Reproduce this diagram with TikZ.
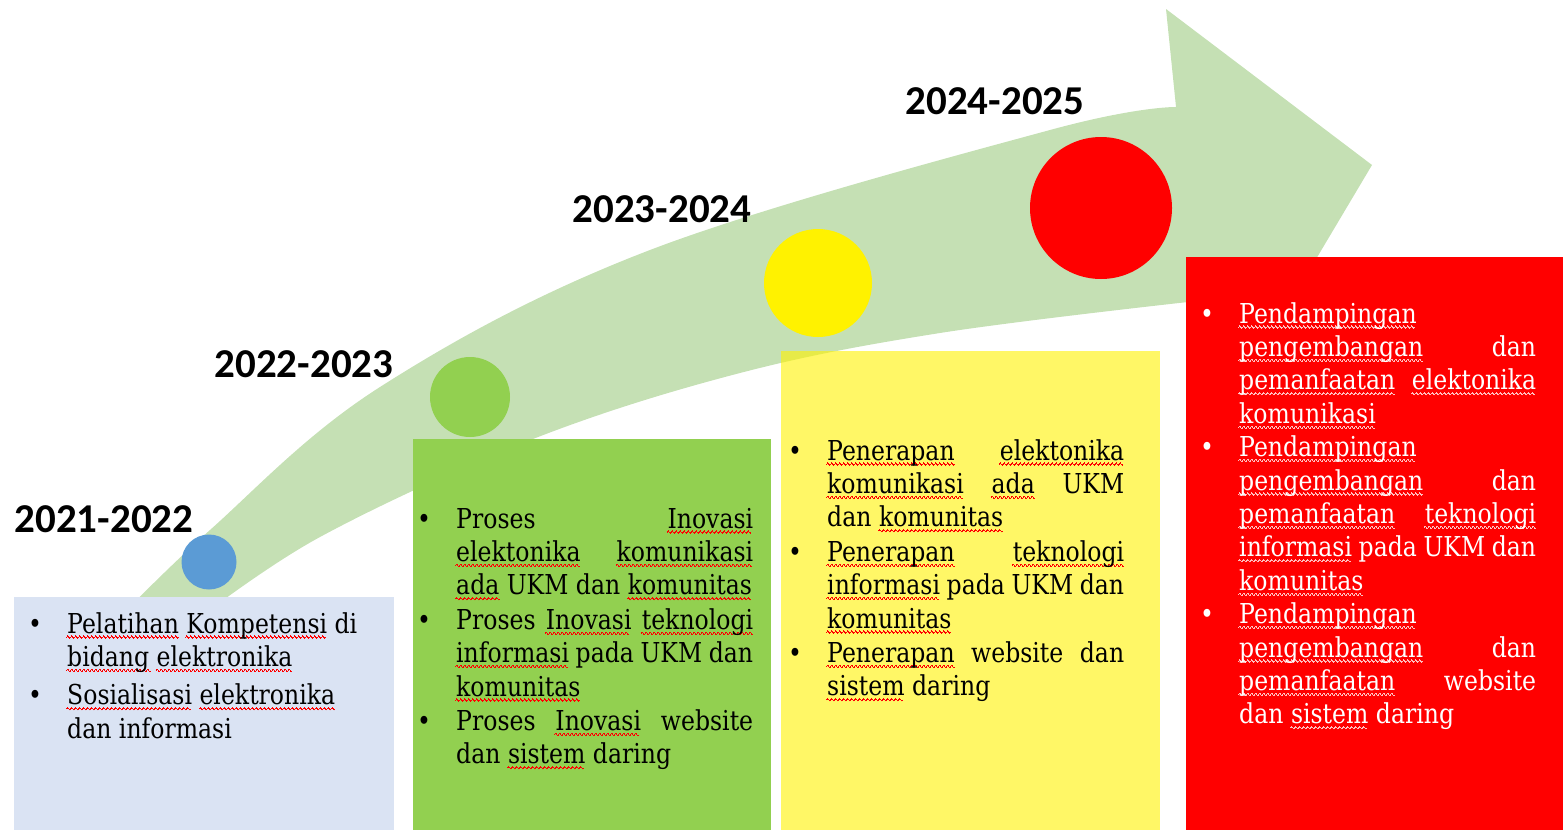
\documentclass[tikz,border=0pt]{standalone}
\usepackage{fontspec}
\setmainfont{DejaVu Serif}[FakeStretch=0.86]
\newfontfamily\yearfont{Carlito}
\usetikzlibrary{positioning}

\definecolor{bandgreen}{RGB}{197,224,180}
\definecolor{boxblue}{RGB}{218,227,243}
\definecolor{leafgreen}{RGB}{146,208,80}
\definecolor{dotblue}{RGB}{91,155,213}
\colorlet{wavecol}{red}

\hyphenpenalty=10000
\exhyphenpenalty=10000

% wavy underline made of small raised rules, one period = 4pt
\newcount\wavenum
\newcount\wavei
\newcommand\wstep[1]{\raise#1pt\hbox{\vrule width0.5pt height0.5pt depth0.5pt}}
\newcommand\wavepiece{\wstep{0}\wstep{0.8}\wstep{1.1}\wstep{0.8}\wstep{0}\wstep{-0.8}\wstep{-1.1}\wstep{-0.8}}
\newcommand\sq[1]{\leavevmode\hbox{}\nobreak\hskip0pt\setbox0\hbox{#1}%
  \wavenum=\wd0 \advance\wavenum by 131072 \divide\wavenum by 262144
  \rlap{\color{wavecol}\kern-1pt\lower4pt\hbox{\wavei=0
    \loop\ifnum\wavei<\wavenum \wavepiece\advance\wavei by 1 \repeat}}\box0\relax}
\newcommand\bodyfont{\fontsize{27.4}{33.4}\selectfont}
\newcommand\firstitm{\hangindent=39pt\hangafter=1\makebox[39pt][l]{\textbullet}}
\newcommand\itm{\par\noindent\firstitm}

\begin{document}
\begin{tikzpicture}[x=1pt,y=-1pt,
  year/.style={font=\yearfont\bfseries\fontsize{41}{41}\selectfont,inner sep=0pt},
  dot/.style={circle,inner sep=0pt,draw=none},
  txt/.style={anchor=base west,inner sep=0pt,text width=336pt,align=justify}]
  \useasboundingbox (0,0) rectangle (1563,830);

  % curved arrow behind everything
  \fill[bandgreen] plot[smooth,tension=0.6] coordinates {(112,625) (210,530) (380,387) (650,250) (1050,130) (1176,107)}
    -- (1166,9) -- (1372,165) -- (1250,370) -- (1188,302)
    -- plot[smooth,tension=0.6] coordinates {(1188,302) (940,333) (740,373) (533,439) (320,537) (190,625)} -- cycle;

  \fill[boxblue] (14,597) rectangle (394,830);
  \fill[leafgreen] (413,439) rectangle (771,830);
  \fill[yellow,fill opacity=0.6] (781,351) rectangle (1160,830);
  \fill[red] (1186,257) rectangle (1563,830);

  \node[dot,fill=dotblue,minimum size=55pt] (dot1) at (209,562) {};
  \node[dot,fill=leafgreen,minimum size=80pt] (dot2) at (470,397) {};
  \node[dot,fill=yellow,minimum size=108pt] (dot3) at (818,283) {};
  \node[dot,fill=red,minimum size=142pt] (dot4) at (1101,208) {};

  \node[year] (yr1) at (104,519) {2021-2022};
  \node[year] (yr2) at (304,364) {2022-2023};
  \node[year] (yr3) at (662,209) {2023-2024};
  \node[year] (yr4) at (995,101) {2024-2025};

  \node[txt] (txt1) at (28,633) {\bodyfont\parskip=5pt%
    \firstitm \sq{Pelatihan} \sq{Kompetensi} di\newline \sq{bidang} \sq{elektronika}
    \itm \sq{Sosialisasi} \sq{elektronika}\newline dan informasi\par};

  \node[txt] (txt2) at (417,528) {\bodyfont\parskip=1pt%
    \firstitm Proses \sq{Inovasi}\linebreak \sq{elektonika} \sq{komunikasi}\linebreak \sq{ada} UKM dan \sq{komunitas}
    \itm Proses \sq{Inovasi} \sq{teknologi}\linebreak \sq{informasi} pada UKM dan\linebreak \sq{komunitas}
    \itm Proses \sq{Inovasi} website\linebreak dan \sq{sistem} daring\par};

  \node[txt] (txt3) at (788,460) {\bodyfont\parskip=1pt%
    \firstitm \sq{Penerapan} \sq{elektonika}\linebreak \sq{komunikasi} \sq{ada} UKM\linebreak dan \sq{komunitas}
    \itm \sq{Penerapan} \sq{teknologi}\linebreak \sq{informasi} pada UKM dan\linebreak \sq{komunitas}
    \itm \sq{Penerapan} website dan\linebreak \sq{sistem} daring\par};

  \node[txt,text=white] (txt4) at (1200,323) {\bodyfont\colorlet{wavecol}{red!25!white}%
    \firstitm \sq{Pendampingan}\newline \sq{pengembangan} dan\linebreak \sq{pemanfaatan} \sq{elektonika}\linebreak \sq{komunikasi}
    \itm \sq{Pendampingan}\newline \sq{pengembangan} dan\linebreak \sq{pemanfaatan} \sq{teknologi}\linebreak \sq{informasi} pada UKM dan\linebreak \sq{komunitas}
    \itm \sq{Pendampingan}\newline \sq{pengembangan} dan\linebreak \sq{pemanfaatan} website\linebreak dan \sq{sistem} daring\par};
\end{tikzpicture}
\end{document}
